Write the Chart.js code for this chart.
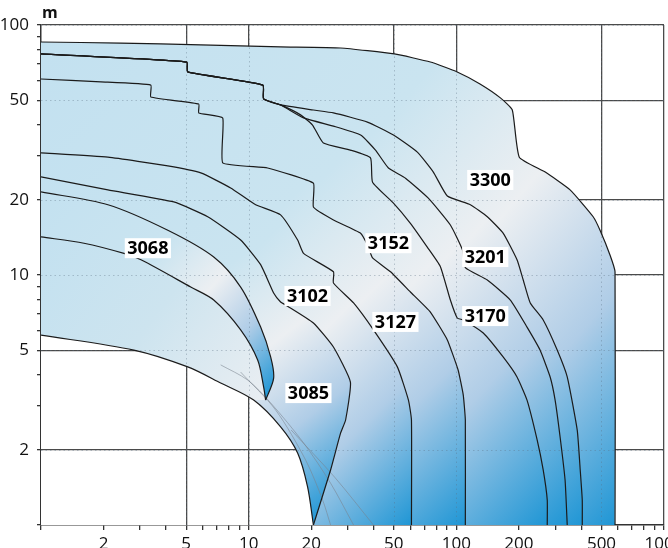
<!DOCTYPE html>
<html>
<head>
<meta charset="utf-8">
<title>Pump ranges</title>
<script src="https://cdn.jsdelivr.net/npm/chart.js@4.4.1/dist/chart.umd.min.js"></script>
<style>
  html, body { margin: 0; padding: 0; background: #fff; }
  #wrap { width: 668px; height: 548px; position: relative; }
</style>
</head>
<body>
<div id="wrap"><canvas id="chart"></canvas></div>
<script>
// Flow Q (x) vs head H in m (y), both log.

// outer envelope
const qhTop = [[1,85.5],[2.42,84.7],[5.88,83.2],[14.25,81.7],[27.7,80.9],[50.3,76.6],[75,71.1],[101,64.9],[130,58.1],[163,51.1],[186,45.7],[201,29.6],[268,25.8],[353,21.9],[456,17.1],[492,15.1],[550,12.0],[581,10.3],[581,1]];

// three curves that share the same left part, then split
const sharedHead = [[1,76.6],[5.03,71.1],[5.09,64.9],[11.7,57.5],[11.8,50.6],[14.25,47.9]];
const branchUpper = [[20.5,45.7],[25.6,44.5],[37.3,40.9],[49.8,36.3],[64.9,31.0],[77.5,25.8],[90.5,20.7],[116.8,19.1],[141,17.1],[168,14.7],[196,11.5],[210,9.55],[227,7.73],[262,6.61],[306,5.01],[342,3.91],[382,2.40],[395,1.66],[404,1.26],[404,1]];
const branchMid = [[18.38,42.5],[25.6,39.4],[34.6,36.3],[40.8,31.6],[47.1,26.8],[56.9,24.4],[73.3,20.3],[93.6,15.85],[107,12.6],[110.5,10.7],[141,9.55],[182,7.94],[219,6.19],[253,5.01],[283,3.91],[299,3.16],[316,2.25],[334,1.51],[342,1]];
const branchLow = [[17.78,43.7],[20.3,39.8],[22.9,33.7],[30.9,31.6],[38.6,29.4],[39.5,23.5],[49.8,19.4],[60.1,16.1],[72.6,12.9],[83.8,10.8],[93.6,7.94],[101,6.73],[108,6.61],[134.8,5.86],[168,4.70],[196,3.91],[219,3.16],[245,2.19],[262,1.66],[274,1.26],[274,1]];

const qh3152 = [[1,60.8],[1.944,59.2],[3.38,57.5],[3.38,51.5],[5.75,48.3],[5.75,44.5],[7.5,42.5],[7.5,28.1],[12.34,26.8],[20.5,23.3],[20.5,18.7],[25.6,16.6],[34.6,14.7],[37.3,13.2],[39.5,11.7],[48.2,10.3],[60.1,8.55],[75,7.11],[90.5,5.5],[102,4.17],[108,3.31],[110.5,2.63],[110.5,1]];
const qh3127 = [[1,30.8],[2.10,29.6],[4.08,27.3],[5.88,25.6],[8.19,22.3],[10.81,19.1],[14.25,17.4],[17.21,13.8],[18.38,12.2],[25.6,10.3],[25.6,9.29],[32.0,7.73],[39.9,6.03],[52.0,4.29],[58.8,3.16],[60.8,2.63],[60.8,1]];
const qh3102 = [[1,24.7],[2.10,21.9],[4.36,19.6],[6.35,17.1],[9.15,13.8],[11.42,11.0],[13.19,8.47],[14.25,7.80],[15.06,7.59],[20.5,6.43],[25.6,5.15],[30.9,3.73],[29.3,2.63],[27.7,2.33],[24.8,1.66],[20.5,1]];
const qhTongue = [[1,21.5],[2.10,19.1],[4.08,15.1],[6.79,11.8],[9.15,8.95],[11.42,6.19],[12.76,4.70],[13.19,3.87],[12.07,3.16]];
const qh3068 = [[1,14.2],[1.61,13.4],[2.51,12.2],[3.03,11.5],[5.26,8.95],[6.79,7.94],[9.15,6.03],[11.05,4.57],[11.81,3.56],[12.07,3.16]];
const qhLower = [[1,5.75],[2.80,5.01],[5.09,4.29],[7.33,3.70],[10.57,3.16],[14.25,2.47],[17.21,1.94],[19.22,1.42],[20.5,1]];

// faint grey curves near the bottom
const greyA = [[7.33,4.37],[9.89,3.80],[12.76,3.08],[18.38,2.13],[24.8,1.47],[32.0,1]];
const greyB = [[9.15,4.09],[13.5,2.88],[18.8,1.82],[22.7,1.26],[24.8,1]];
const greyC = [[16.0,2.40],[26,1.55],[39.9,1]];

// pump labels
const pumpNames = ['3068','3085','3102','3127','3152','3170','3201','3300'];
const labelQ = [3.27, 19.4, 19.2, 50.9, 47.1, 137.8, 137.8, 145.7];
const labelH = [12.8, 3.37, 8.24, 6.49, 13.4, 6.85, 11.8, 24.0];

// axes
const xTickValues = [1,2,3,4,5,6,7,8,9,10,20,30,40,50,60,70,80,90,100,200,300,400,500,600,700,800,900,1000];
const yTickValues = [1,2,3,4,5,6,7,8,9,10,20,30,40,50,60,70,80,90,100];
const xTickLabels = [2,5,10,20,50,100,200,500,1000];
const yTickLabels = [2,5,10,20,50,100];
const xGridAt = [5,10,50,100,500,1000];
const yGridAt = [2,5,10,20,50,100];

const curveUpper = sharedHead.concat(branchUpper);
const curveMid = sharedHead.concat(branchMid);
const curveLow = sharedHead.concat(branchLow);

// black curves, dataset index = position here
const curves = [qhTop, curveUpper, curveMid, curveLow, qh3152, qh3127, qh3102, qhTongue, qh3068, qhLower];
const tensions = [0.15, 0.15, 0.15, 0.15, 0.12, 0.15, 0.15, 0.3, 0.3, 0.3];
const LOWER = 9;

const blueStops = [[0,'#c3e1f0'],[0.42,'#cae4f0'],[0.62,'#eceff2'],[0.8,'#b0cde7'],[1,'#1f96d5']];
const paleStops = [[0,'#c3e1f0'],[0.5,'#cde4ef'],[1,'#eaeef2']];

// regions drawn back to front; each one fills under its curve
const regions = [0, 1, 2, 3, 4, 5, 6, 7, 8].map(i => ({ index: i, stops: i === 8 ? paleStops : blueStops }));

const toXY = arr => arr.map(([q, h]) => ({ x: q, y: h }));
const align = (p, w) => Math.round(p - w / 2) + w / 2;

const regionFill = {
    id: 'regionFill',
    beforeDatasetsDraw(chart) {
        const { ctx, chartArea: a, scales: { x, y } } = chart;
        ctx.save();
        ctx.beginPath();
        ctx.rect(a.left, a.top, a.width, a.height);
        ctx.clip();

        regions.forEach(r => {
            const meta = chart.getDatasetMeta(r.index);
            const pts = meta.data;
            const first = pts[0], last = pts[pts.length - 1];
            const endQ = curves[r.index][curves[r.index].length - 1][0];
            const anchor = qhLower.filter(p => p[0] <= endQ + 1e-6).pop();
            const ax = x.getPixelForValue(anchor[0]);
            ctx.beginPath();
            meta.dataset.path(ctx);
            ctx.lineTo(ax, y.getPixelForValue(anchor[1]));
            ctx.lineTo(ax, a.bottom);
            ctx.lineTo(a.left, a.bottom);
            ctx.closePath();
            const g = ctx.createLinearGradient(first.x, first.y, last.x, last.y);
            r.stops.forEach(([o, c]) => g.addColorStop(o, c));
            ctx.fillStyle = g;
            ctx.fill();
        });

        // white area under the lower limit curve, with its grid put back
        ctx.save();
        ctx.beginPath();
        chart.getDatasetMeta(LOWER).dataset.path(ctx);
        ctx.lineTo(a.left, a.bottom);
        ctx.closePath();
        ctx.fillStyle = '#fff';
        ctx.fill();
        ctx.clip();
        ctx.strokeStyle = '#4a4a4a';
        ctx.lineWidth = 1.3;
        xGridAt.forEach(v => {
            const u = align(x.getPixelForValue(v), 1.3);
            ctx.beginPath(); ctx.moveTo(u, a.top); ctx.lineTo(u, a.bottom); ctx.stroke();
        });
        yGridAt.forEach(v => {
            const w = align(y.getPixelForValue(v), 1.3);
            ctx.beginPath(); ctx.moveTo(a.left, w); ctx.lineTo(a.right, w); ctx.stroke();
        });
        ctx.restore();

        // grid shows through the shading as faint dots
        ctx.strokeStyle = 'rgba(90,110,130,0.35)';
        ctx.lineWidth = 1;
        ctx.setLineDash([1.5, 3]);
        xGridAt.forEach(v => {
            const u = Math.round(x.getPixelForValue(v)) + 0.5;
            ctx.beginPath(); ctx.moveTo(u, a.top); ctx.lineTo(u, a.bottom); ctx.stroke();
        });
        yGridAt.forEach(v => {
            const w = Math.round(y.getPixelForValue(v)) + 0.5;
            ctx.beginPath(); ctx.moveTo(a.left, w); ctx.lineTo(a.right, w); ctx.stroke();
        });
        ctx.restore();
    },
    afterDatasetsDraw(chart) {
        const { ctx, scales: { x, y } } = chart;
        ctx.save();
        ctx.font = "bold 18px 'Open Sans', sans-serif";
        ctx.textAlign = 'center';
        ctx.textBaseline = 'middle';
        pumpNames.forEach((name, i) => {
            const u = x.getPixelForValue(labelQ[i]);
            const v = y.getPixelForValue(labelH[i]);
            const w = ctx.measureText(name).width + 5;
            ctx.fillStyle = '#fff';
            ctx.fillRect(u - w / 2, v - 10, w, 20);
            ctx.fillStyle = '#000';
            ctx.fillText(name, u, v + 1);
        });
        ctx.restore();
    },
    afterDraw(chart) {
        const { ctx, chartArea: a } = chart;
        ctx.save();
        ctx.font = "bold 16px 'Open Sans', sans-serif";
        ctx.fillStyle = '#111';
        ctx.textAlign = 'left';
        ctx.textBaseline = 'alphabetic';
        ctx.fillText('m', a.left + 1, 18);
        ctx.restore();
    }
};

const datasets = [
    ...curves.map((c, i) => ({
        data: toXY(c), showLine: true, borderColor: '#1b1b1b', borderWidth: 1.2,
        pointRadius: 0, tension: tensions[i], fill: false
    })),
    ...[greyA, greyB, greyC].map(c => ({
        data: toXY(c), showLine: true, borderColor: 'rgba(120,130,140,0.55)', borderWidth: 1,
        pointRadius: 0, tension: 0.3, fill: false
    }))
];

Chart.defaults.font.family = "'Open Sans', sans-serif";

new Chart(document.getElementById('chart'), {
    type: 'scatter',
    data: { datasets },
    options: {
        responsive: true,
        maintainAspectRatio: false,
        animation: false,
        layout: { padding: { top: 25, right: 4, left: 0, bottom: 0 } },
        plugins: { legend: { display: false }, tooltip: { enabled: false } },
        scales: {
            x: {
                type: 'logarithmic',
                min: 1,
                max: 1000,
                afterBuildTicks: s => { s.ticks = xTickValues.map(v => ({ value: v })); },
                afterFit: s => { s.height = 23; s.paddingLeft = 0; s.paddingRight = 0; },
                ticks: {
                    autoSkip: false,
                    maxRotation: 0,
                    minRotation: 0,
                    padding: 4,
                    color: '#111',
                    font: { size: 17 },
                    callback: v => xTickLabels.includes(v) ? String(v) : ''
                },
                grid: {
                    color: c => (c.tick && xGridAt.includes(c.tick.value)) ? '#4a4a4a' : 'rgba(0,0,0,0)',
                    tickColor: '#333',
                    lineWidth: 1.3,
                    tickLength: 5
                },
                border: { color: '#333', width: 1.5 }
            },
            y: {
                type: 'logarithmic',
                min: 1,
                max: 100,
                afterBuildTicks: s => { s.ticks = yTickValues.map(v => ({ value: v })); },
                afterFit: s => { s.width = 41; },
                ticks: {
                    autoSkip: false,
                    padding: 8,
                    color: '#111',
                    font: { size: 17 },
                    callback: v => yTickLabels.includes(v) ? String(v) : ''
                },
                grid: {
                    color: c => (c.tick && yGridAt.includes(c.tick.value)) ? '#4a4a4a' : 'rgba(0,0,0,0)',
                    tickColor: '#333',
                    lineWidth: 1.3,
                    tickLength: 4
                },
                border: { color: '#333', width: 1.5 }
            }
        }
    },
    plugins: [regionFill]
});
</script>
</body>
</html>
